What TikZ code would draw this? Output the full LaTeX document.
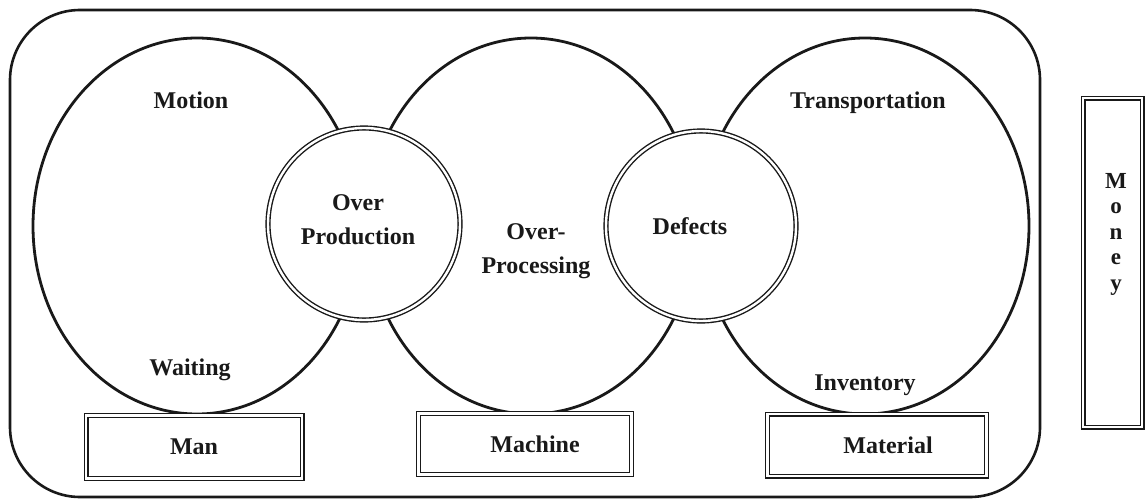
\documentclass[tikz,border=0pt]{standalone}
\usepackage{fontspec}
\setmainfont{Liberation Serif}
\begin{document}
\begin{tikzpicture}[x=1pt,y=-1pt,
  lbl/.style={font=\fontsize{24}{34}\selectfont\bfseries, text=black!90, align=center, inner sep=0pt},
  bigcirc/.style={draw=black!90, line width=2.8pt},
  smallcirc/.style={draw=black!90, fill=white, line width=1.4pt, double=white, double distance=2.4pt},
  dbox/.style={draw=black!90, fill=white, line width=1.3pt, double=white, double distance=2.4pt, inner sep=0pt},
  frame/.style={draw=black!90, line width=2.6pt, rounded corners=70pt}
]
\useasboundingbox (0,0) rectangle (1145,503);
% outer frame
\draw[frame] (10,10) rectangle (1040,497);
% big circles
\draw[bigcirc] (197,226) ellipse [x radius=164, y radius=188];
\draw[bigcirc] (531,226) ellipse [x radius=164, y radius=188];
\draw[bigcirc] (865,226) ellipse [x radius=164, y radius=188];
% small circles
\draw[smallcirc] (364,224) circle [radius=96];
\draw[smallcirc] (701,226) circle [radius=95];
% texts
\node[lbl] (motion) at (191,100) {Motion};
\node[lbl] (waiting) at (190,370) {Waiting};
\node[lbl] (overprod) at (358,220) {Over\\Production};
\node[lbl] (overproc) at (536,251) {Over-\\Processing};
\node[lbl] (defects) at (690,226) {Defects};
\node[lbl] (transp) at (868,103) {Transportation};
\node[lbl] (invent) at (865,385) {Inventory};
% boxes
\node[dbox, minimum width=216pt, minimum height=63pt, lbl] (man) at (194,447) {Man};
\node[dbox, minimum width=213pt, minimum height=61pt, lbl] (machine) at (525,444) {\hspace{20pt}Machine};
\node[dbox, minimum width=219pt, minimum height=62pt, lbl] (material) at (877,445) {\hspace{22pt}Material};
\node[dbox, minimum width=59pt, minimum height=329pt] (moneybox) at (1112.5,262.5) {};
\node[lbl, font=\fontsize{23}{25.5}\selectfont\bfseries] (money) at (1116,234) {M\\o\\n\\e\\y};
\end{tikzpicture}
\end{document}
